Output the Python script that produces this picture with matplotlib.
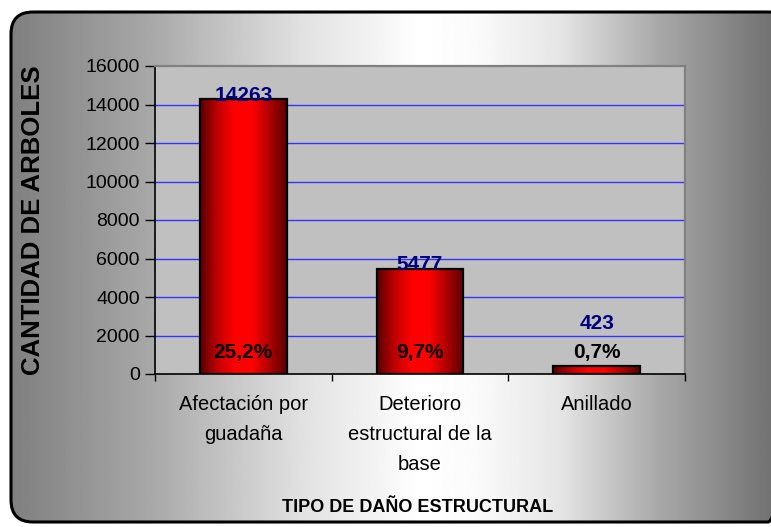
import numpy as np
import matplotlib
matplotlib.use("Agg")
import matplotlib.pyplot as plt
from matplotlib.patches import FancyBboxPatch
from matplotlib.colors import LinearSegmentedColormap

# Chart data
categories = ["Afectación por\nguadaña", "Deterioro\nestructural de la\nbase", "Anillado"]
counts = [14263, 5477, 423]
percent_labels = ["25,2%", "9,7%", "0,7%"]
y_ticks = [0, 2000, 4000, 6000, 8000, 10000, 12000, 14000, 16000]

plt.rcParams["font.family"] = ["Liberation Sans", "DejaVu Sans"]

W, H = 771, 527
fig = plt.figure(figsize=(W / 100, H / 100), dpi=100, facecolor="white")

# Background: rounded frame with horizontal grey-white-grey gradient
bg = fig.add_axes([0, 0, 1, 1], zorder=-5)
bg.set_xlim(0, W)
bg.set_ylim(H, 0)
bg.axis("off")
xs = np.linspace(0, W, 400)
nodes_x = [0, 11, 150, 300, 420, 480, 560, 660, 771]
nodes_v = [0.50, 0.50, 0.66, 0.88, 1.00, 0.98, 0.90, 0.66, 0.45]
shade = np.interp(xs, nodes_x, nodes_v)
grad = np.tile(shade, (2, 1))
frame = FancyBboxPatch((11, 12), 779, 510, boxstyle="round,pad=0,rounding_size=22",
                       facecolor="none", edgecolor="black", linewidth=2.2, zorder=3)
bg.add_patch(frame)
img = bg.imshow(grad, cmap="gray", vmin=0, vmax=1, extent=[0, W, H, 0],
                aspect="auto", zorder=1)
img.set_clip_path(frame)

# Main plot area
ax = fig.add_axes([155 / W, 1 - 374 / H, 530 / W, 308 / H])
ax.set_facecolor("#c0c0c0")
x = np.arange(len(categories))

for yv in y_ticks[1:-1]:
    ax.axhline(yv, color="#3333ff", linewidth=1.0, zorder=1)

bar_cmap = LinearSegmentedColormap.from_list(
    "redbar", ["#5a0000", "#c00000", "#ff0000", "#ff0000", "#b00000", "#5a0000"])
bar_grad = np.tile(np.linspace(0, 1, 200), (2, 1))
bar_w = 0.49
bars = ax.bar(x, counts, width=bar_w, facecolor="none", edgecolor="black",
              linewidth=1.6, zorder=3)
for b in bars:
    x0, w, h = b.get_x(), b.get_width(), b.get_height()
    im = ax.imshow(bar_grad, cmap=bar_cmap, extent=[x0, x0 + w, 0, h],
                   aspect="auto", zorder=2)
    im.set_clip_path(b)
ax.set_xlim(-0.5, len(categories) - 0.5)
ax.set_ylim(0, 16000)

# Labels: percent near the base, counts at the top of each bar
pct_y = 830
for xi, c, p in zip(x, counts, percent_labels):
    ax.text(xi, pct_y, p, ha="center", va="baseline", fontsize=15,
            fontweight="bold", color="black", zorder=5)
    ty = max(c, pct_y + 1600)
    ax.annotate(str(c), (xi, ty), xytext=(0, -1), textcoords="offset points",
                ha="center", va="baseline", fontsize=15, fontweight="bold",
                color="#000080", zorder=5)

# Axes styling
for side in ["top", "right"]:
    ax.spines[side].set_color("#808080")
    ax.spines[side].set_linewidth(1.6)
for side in ["left", "bottom"]:
    ax.spines[side].set_color("black")
    ax.spines[side].set_linewidth(1.2)

ax.set_yticks(y_ticks)
ax.set_yticklabels([str(v) for v in y_ticks])
ax.tick_params(axis="y", length=7, width=1, pad=4, labelsize=14, direction="out")

ax.set_xticks(np.arange(len(categories) + 1) - 0.5)
ax.set_xticklabels([])
ax.tick_params(axis="x", which="major", length=5, width=1, direction="out")
ax.set_xticks(x, minor=True)
ax.set_xticklabels(categories, minor=True, fontsize=14.5, linespacing=1.75)
ax.tick_params(axis="x", which="minor", length=0, pad=15)

fig.text(33 / W, 1 - 220 / H, "CANTIDAD DE ARBOLES", rotation=90, ha="center",
         va="center", fontsize=18.5, fontweight="bold")
fig.text(418 / W, 1 - 507 / H, "TIPO DE DAÑO ESTRUCTURAL", ha="center",
         va="center", fontsize=13, fontweight="bold")

fig.savefig("out.png", dpi=100, facecolor="white")
